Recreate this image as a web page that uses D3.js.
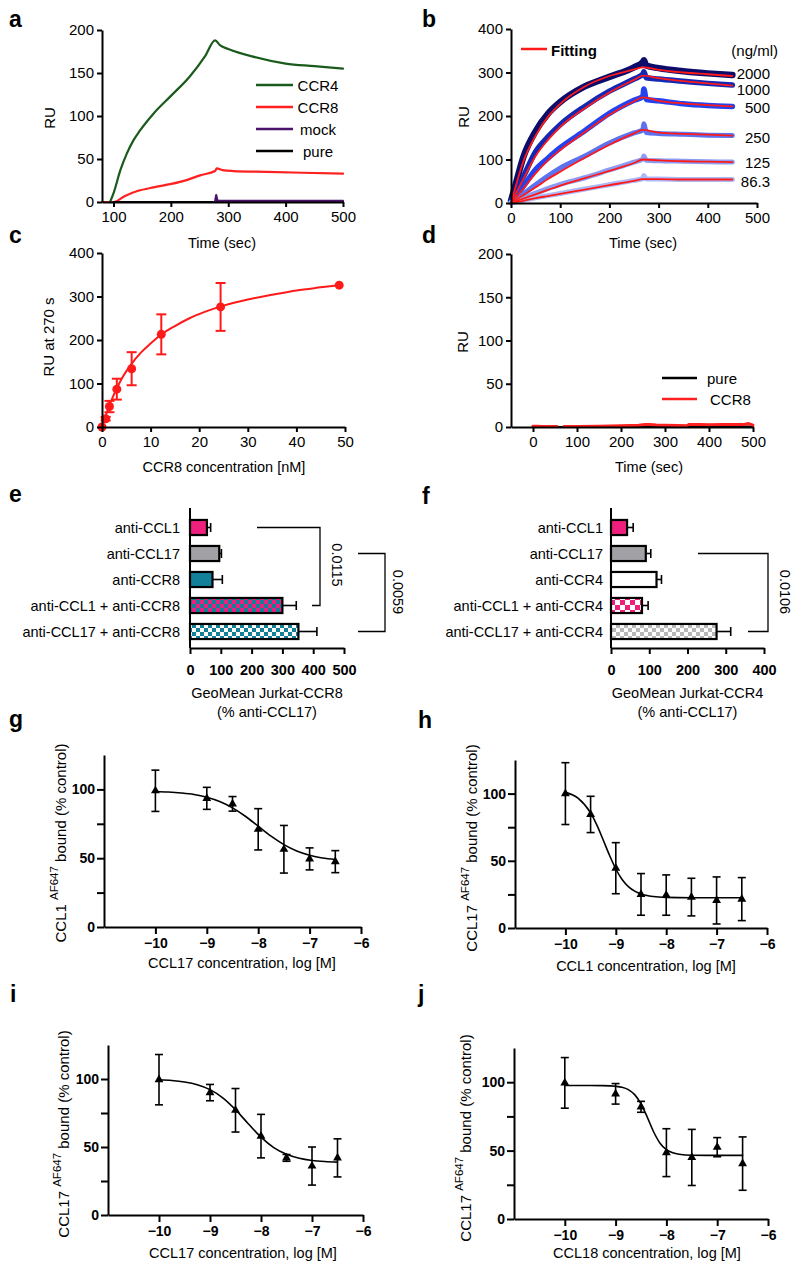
<!DOCTYPE html>
<html><head><meta charset="utf-8">
<script src="https://cdn.jsdelivr.net/npm/d3@7"></script>
<style>body{margin:0;background:#fff}svg{display:block}</style>
</head><body><svg id="fig" width="800" height="1272"></svg>
<script>
// ---------- DATA ----------
// Panel a
const aCCR4Time = [94,100,112,123,135,145,170,201,233,260,277,286,300,343,400,450,500];
const aCCR4     = [0,10,37,56,72,82,103,124,146,170,188,182,178,169,161,158,155];
const aCCR8Time = [80,100,120,143,170,201,230,251,277,280,290,309,367,430,500];
const aCCR8     = [0,0,7,13,17,21,26,31,36,39,37,36,35,34,33];
const aMockTime = [274,277,279,281,284,300,500];
const aMock     = [0,0,8,2,1.2,1.2,1.2];
const aPureTime = [100,280,500];
const aPure     = [0,0,0];
const aLegend   = ["CCR4","CCR8","mock","pure"];

// Panel b
const bConc  = ["2000","1000","500","250","125","86.3"];
const bTime  = [0,10,25,50,75,100,150,200,250,268,270,275,300,350,400,450];
const b2000  = [5,45,105,165,205,232,268,290,312,324,328,316,310,303,298,294];
const b1000  = [3,25,60,118,152,180,222,257,285,296,302,288,285,280,275,271];
const b500   = [2,15,38,77,103,127,166,206,236,245,262,238,235,228,224,222];
const b250   = [1,9,21,42,62,80,108,138,161,168,182,162,160,158,156,155];
const b125   = [1,5,12,23,33,43,58,76,94,101,108,98,97,96,95,94];
const b86    = [0,3,6,12,17,22,32,42,52,56,63,55,55,54,54,54];
const bFitTime = [0,10,25,50,75,100,150,200,250,268,300,350,400,450];
const bFit2000 = [0,40,95,155,198,228,268,292,307,312,306,300,296,292];
const bFit1000 = [0,22,55,108,145,175,218,254,283,293,287,280,275,270];
const bFit500  = [0,13,33,68,98,122,163,203,234,243,235,229,225,222];
const bFit250  = [0,7,18,36,55,72,104,134,160,168,162,159,157,155];
const bFit125  = [0,4,10,20,30,40,57,74,92,100,98,96,95,94];
const bFit86   = [0,2,5,11,16,21,31,41,51,55,55,54,54,54];

// Panel c
const cConc = [0,0.76,1.53,3.05,6.1,12.2,24.4,48.8];
const cRU   = [0,19,47,87,134,213,276,326];
const cErr  = [0,4,13,24,38,46,55,0];
const cFitConc = [0,1,2,3,4,6,8,10,12,15,18,21,25,30,35,40,45,48.8];
const cFitRU   = [0,34,63,88,110,144,171,192,211,232,250,264,279,293,304,314,321,326];

// Panel d
const dRedTime1 = [0,10,20,35,55];
const dRed1     = [1,0.8,0.5,0.6,0.5];
const dRedTime2 = [70,100,150,200,240,255,265,280,300,330,350,355,380,400,430,460,480,490,500];
const dRed2     = [0.5,0.6,1,1.5,2,3,3,2.2,2,1.8,1.5,3,2.8,2.6,3,2.8,3,4,2];
const dPureTime = [0,100,200,300,400,500];
const dPure     = [0,0,0.5,0.5,0.5,0.5];
const dLegend   = ["pure","CCR8"];

// Panel e
const eCats = ["anti-CCL1","anti-CCL17","anti-CCR8","anti-CCL1 + anti-CCR8","anti-CCL17 + anti-CCR8"];
const eVals = [55,95,73,300,352];
const eErr  = [12,7,32,45,60];
const eTicks = [0,100,200,300,400,500];
const eP = ["0.0115","0.0059"];

// Panel f
const fCats = ["anti-CCL1","anti-CCL17","anti-CCR4","anti-CCL1 + anti-CCR4","anti-CCL17 + anti-CCR4"];
const fVals = [42,91,119,81,276];
const fErr  = [16,13,13,16,37];
const fTicks = [0,100,200,300,400];
const fP = ["0.0106"];

// Dose-response panels g-j
const logTicks = [-10,-9,-8,-7,-6];
const gX = [-10,-9,-8.5,-8,-7.5,-7,-6.5];
const gY = [99,93.5,89.5,71,56.5,49.5,47.5];
const gErr = [15,8,5.3,15,17.3,8,8];
const gFitX = [-10,-9.75,-9.5,-9.25,-9,-8.75,-8.5,-8.25,-8,-7.75,-7.5,-7.25,-7,-6.75,-6.5];
const gFitY = [98.5,98.1,97.4,96.3,94.3,91.2,86.6,80.5,73.3,66.0,59.9,55.3,52.2,50.2,49.1];

const hX = [-10,-9.5,-9,-8.5,-8,-7.5,-7,-6.5];
const hY = [100,84.5,44.5,25,24.5,23,20.5,21.5];
const hErr = [23,13.5,19,15.5,15,14,17.5,16];
const hFitX = [-10,-9.75,-9.5,-9.375,-9.25,-9.125,-9,-8.875,-8.75,-8.625,-8.5,-8.25,-8,-7.5,-7,-6.5];
const hFitY = [100.9,96.6,85.6,76.5,65.5,54.1,43.9,36.1,30.8,27.4,25.3,23.4,22.8,22.5,22.5,22.5];

const iX = [-10,-9,-8.5,-8,-7.5,-7,-6.5];
const iY = [99.5,90,77,58,42,36,42];
const iErr = [18.5,6,16,16,2.5,14,14];
const iFitX = [-10,-9.75,-9.5,-9.25,-9,-8.75,-8.5,-8.25,-8,-7.75,-7.5,-7.25,-7,-6.75,-6.5];
const iFitY = [99.4,98.9,97.8,95.8,92.2,86.2,77.5,67.1,57.2,49.5,44.6,41.7,40.1,39.3,38.9];

const jX = [-10,-9,-8.5,-8,-7.5,-7,-6.5];
const jY = [99.5,91.5,82,48.5,45,52.5,40.5];
const jErr = [18.5,7.5,4,17.5,20.5,7,19.5];
const jFitX = [-10,-9.5,-9.25,-9,-8.875,-8.75,-8.625,-8.5,-8.375,-8.25,-8.125,-8,-7.875,-7.75,-7.5,-7,-6.5];
const jFitY = [97.6,97.6,97.5,97.0,96.3,94.6,90.9,84.2,74.3,63.6,55.4,50.7,48.4,47.3,46.6,46.5,46.5];

// ---------- DRAWING ----------
const FONT = '"Liberation Sans", Arial, Helvetica, sans-serif';
const svg = d3.select("#fig").attr("font-family", FONT);
const PINK = "#ef1f7d", TEAL = "#13809a", GRAY = "#a2a2a6";

function styleAxis(g, size, bold) {
  g.attr("font-family", FONT);
  g.select(".domain").attr("stroke", "#000").attr("stroke-width", 2);
  g.selectAll(".tick line").attr("stroke", "#000").attr("stroke-width", 2);
  g.selectAll(".tick text").attr("fill", "#000").style("font-size", size + "px")
    .style("font-weight", bold ? "bold" : "normal");
}
function xAxis(scale, y, ticks, opt = {}) {
  const g = svg.append("g").attr("transform", `translate(0,${y})`)
    .call(d3.axisBottom(scale).tickValues(ticks).tickSize(opt.ts || 5).tickPadding(opt.tp || 4).tickSizeOuter(0).tickFormat(opt.fmt || d3.format("d")));
  styleAxis(g, opt.size || 15, opt.bold);
  return g;
}
function yAxis(scale, x, ticks, opt = {}) {
  const g = svg.append("g").attr("transform", `translate(${x},0)`)
    .call(d3.axisLeft(scale).tickValues(ticks).tickSize(opt.ts || 5).tickPadding(opt.tp || 3).tickSizeOuter(0).tickFormat(opt.fmt || d3.format("d")));
  styleAxis(g, opt.size || 15, opt.bold);
  return g;
}
function text(x, y, s, opt = {}) {
  return svg.append("text").attr("x", x).attr("y", y).text(s)
    .attr("text-anchor", opt.anchor || "middle")
    .attr("dominant-baseline", opt.base || "central")
    .style("font-size", (opt.size || 14.5) + "px")
    .style("font-weight", opt.bold ? "bold" : "normal").attr("fill", "#000");
}
function rtext(x, y, s, rot, size) {
  return svg.append("text").attr("transform", `translate(${x},${y}) rotate(${rot})`)
    .attr("text-anchor", "middle").attr("dominant-baseline", "central")
    .style("font-size", (size || 14.5) + "px").text(s);
}
function letter(x, y, s) { text(x, y, s, {anchor: "start", base: "alphabetic", size: 23, bold: true}); }
function pts(xs, ys) { return xs.map((x, i) => [x, ys[i]]); }
function drawLine(xs, ys, sx, sy, color, w, curve) {
  svg.append("path").datum(pts(xs, ys))
    .attr("d", d3.line().x(d => sx(d[0])).y(d => sy(d[1])).curve(curve || d3.curveMonotoneX))
    .attr("fill", "none").attr("stroke", color).attr("stroke-width", w)
    .attr("stroke-linejoin", "round").attr("stroke-linecap", "round");
}

// ---- Panel a ----
{
  const x = d3.scaleLinear([80, 500], [102, 343]);
  const y = d3.scaleLinear([0, 200], [202, 30]);
  drawLine(aCCR8Time, aCCR8, x, y, "#ff2020", 2.2);
  drawLine(aPureTime, aPure, x, y, "#000", 2.2, d3.curveLinear);
  drawLine(aMockTime, aMock, x, y, "#4a1268", 2.2, d3.curveLinear);
  drawLine(aCCR4Time, aCCR4, x, y, "#1a5a1a", 2.2);
  xAxis(x, 202, [100, 200, 300, 400, 500]);
  yAxis(y, 102, [0, 50, 100, 150, 200]);
  const cols = ["#1a5a1a", "#ff2020", "#4a1268", "#000"];
  const ly = d3.scalePoint(aLegend, [85, 151]);
  aLegend.forEach((l, i) => {
    svg.append("line").attr("x1", 256).attr("x2", 293).attr("y1", ly(l)).attr("y2", ly(l))
      .attr("stroke", cols[i]).attr("stroke-width", 2.5);
    text(318, ly(l), l, {size: 15});
  });
  rtext(49, 118, "RU", -90, 15);
  text(222, 243, "Time (sec)");
  letter(9, 27, "a");
}

// ---- Panel b ----
{
  const x = d3.scaleLinear([0, 500], [511, 757]);
  const y = d3.scaleLinear([0, 400], [203, 29]);
  const data = [b2000, b1000, b500, b250, b125, b86];
  const fits = [bFit2000, bFit1000, bFit500, bFit250, bFit125, bFit86];
  const cols = ["#0c0c6a", "#1428b4", "#2443f0", "#5d72ef", "#8d9cf3", "#adb9f7"];
  const widths = [6.5, 5.5, 5.5, 5, 5, 5];
  data.forEach((d, i) => drawLine(bTime, d, x, y, cols[i], widths[i], d3.curveMonotoneX));
  fits.forEach(f => drawLine(bFitTime, f, x, y, "#ff1a1a", 1.8, d3.curveMonotoneX));
  xAxis(x, 203, [0, 100, 200, 300, 400, 500]);
  yAxis(y, 511, [0, 100, 200, 300, 400]);
  svg.append("line").attr("x1", 521).attr("x2", 547).attr("y1", 49).attr("y2", 49)
    .attr("stroke", "#ff1a1a").attr("stroke-width", 2.5);
  text(551, 50, "Fitting", {anchor: "start", bold: true, size: 15});
  text(778, 50, "(ng/ml)", {anchor: "end", size: 15});
  const labY = [73, 89, 107, 137, 162, 181];
  bConc.forEach((c, i) => text(770, labY[i], c, {anchor: "end", size: 15}));
  rtext(463, 117, "RU", -90, 15);
  text(643, 243, "Time (sec)");
  letter(422, 27, "b");
}

// ---- Panel c ----
{
  const x = d3.scaleLinear([0, 50], [102, 345]);
  const y = d3.scaleLinear([0, 400], [427, 253]);
  drawLine(cFitConc, cFitRU, x, y, "#ff1a1a", 2, d3.curveMonotoneX);
  const g = svg.append("g");
  cConc.forEach((c, i) => {
    if (cErr[i] > 0) {
      g.append("line").attr("x1", x(c)).attr("x2", x(c)).attr("y1", y(cRU[i] - cErr[i])).attr("y2", y(cRU[i] + cErr[i]))
        .attr("stroke", "#ff1a1a").attr("stroke-width", 2);
      [cRU[i] - cErr[i], cRU[i] + cErr[i]].forEach(v =>
        g.append("line").attr("x1", x(c) - 5).attr("x2", x(c) + 5).attr("y1", y(v)).attr("y2", y(v))
          .attr("stroke", "#ff1a1a").attr("stroke-width", 2));
    }
    g.append("circle").attr("cx", x(c)).attr("cy", y(cRU[i])).attr("r", 4.5).attr("fill", "#ff1a1a");
  });
  xAxis(x, 427, [0, 10, 20, 30, 40, 50]);
  yAxis(y, 102, [0, 100, 200, 300, 400]);
  rtext(48, 337, "RU at 270 s", -90, 15);
  text(224, 467, "CCR8 concentration [nM]");
  letter(9, 243, "c");
}

// ---- Panel d ----
{
  const x = d3.scaleLinear([-50, 500], [511, 753]);
  const y = d3.scaleLinear([0, 200], [427, 254]);
  drawLine(dPureTime, dPure, x, y, "#000", 2, d3.curveLinear);
  drawLine(dRedTime1, dRed1, x, y, "#ff2020", 3, d3.curveLinear);
  drawLine(dRedTime2, dRed2, x, y, "#ff2020", 3, d3.curveLinear);
  xAxis(x, 427, [0, 100, 200, 300, 400, 500]);
  yAxis(y, 511, [0, 50, 100, 150, 200]);
  const cols = ["#000", "#ff2020"];
  const lys = [378, 399];
  dLegend.forEach((l, i) => {
    svg.append("line").attr("x1", 662).attr("x2", 697).attr("y1", lys[i]).attr("y2", lys[i])
      .attr("stroke", cols[i]).attr("stroke-width", 2.5);
    text(i === 0 ? 707 : 710, lys[i], l, {anchor: "start", size: 15});
  });
  rtext(462, 342, "RU", -90, 15);
  text(649, 467, "Time (sec)");
  letter(422, 243, "d");
}

// ---- patterns ----
const defs = svg.append("defs");
function checker(id, a, b, c) {
  const p = defs.append("pattern").attr("id", id).attr("patternUnits", "userSpaceOnUse")
    .attr("width", 2 * c).attr("height", 2 * c);
  p.append("rect").attr("width", 2 * c).attr("height", 2 * c).attr("fill", a);
  p.append("rect").attr("width", c).attr("height", c).attr("fill", b);
  p.append("rect").attr("x", c).attr("y", c).attr("width", c).attr("height", c).attr("fill", b);
}
checker("pinkTeal", TEAL, PINK, 4);
checker("tealWhite", "#ffffff", TEAL, 4);
checker("pinkWhite", "#ffffff", PINK, 5);
checker("grayWhite", "#ffffff", "#b8b8b8", 4);

function barPanel(cats, vals, errs, ticks, x0, x1, xmax, fills, labelX, title, brackets) {
  const x = d3.scaleLinear([0, xmax], [x0, x1]);
  const y = d3.scaleBand(cats, [514.5, 644.5]).paddingInner(0.42).paddingOuter(0.21);
  cats.forEach((c, i) => {
    const yc = y(c) + y.bandwidth() / 2;
    svg.append("line").attr("x1", x(vals[i])).attr("x2", x(vals[i] + errs[i])).attr("y1", yc).attr("y2", yc)
      .attr("stroke", "#000").attr("stroke-width", 1.6);
    svg.append("line").attr("x1", x(vals[i] + errs[i])).attr("x2", x(vals[i] + errs[i]))
      .attr("y1", yc - 4.5).attr("y2", yc + 4.5).attr("stroke", "#000").attr("stroke-width", 1.6);
    svg.append("rect").attr("x", x(0)).attr("y", y(c)).attr("width", x(vals[i]) - x(0)).attr("height", y.bandwidth())
      .attr("fill", fills[i]).attr("stroke", "#000").attr("stroke-width", 2.2);
    text(labelX, yc, c, {anchor: "end"});
  });
  svg.append("line").attr("x1", x0).attr("x2", x0).attr("y1", 508).attr("y2", 648)
    .attr("stroke", "#000").attr("stroke-width", 2);
  xAxis(x, 648, ticks, {bold: true, size: 14.5, ts: 6, tp: 11});
  text((x0 + x1) / 2, 693, title[0]);
  text((x0 + x1) / 2, 712, title[1]);
  brackets.forEach(b => {
    const ya = y(cats[b.from]) + y.bandwidth() / 2, yb = y(cats[b.to]) + y.bandwidth() / 2;
    svg.append("path").attr("d", `M${b.x1},${ya}H${b.xr}V${yb}H${b.x2}`)
      .attr("fill", "none").attr("stroke", "#000").attr("stroke-width", 1.3);
    rtext(b.tx, b.ty, b.p, 90, 14.5);
  });
}
barPanel(eCats, eVals, eErr, eTicks, 190, 344, 500,
  [PINK, GRAY, TEAL, "url(#pinkTeal)", "url(#tealWhite)"], 180,
  ["GeoMean Jurkat-CCR8", "(% anti-CCL17)"],
  [{from: 0, to: 3, x1: 257, xr: 320, x2: 312, tx: 337, ty: 565, p: eP[0]},
   {from: 1, to: 4, x1: 358, xr: 385, x2: 358, tx: 398, ty: 592, p: eP[1]}]);
letter(9, 502, "e");
barPanel(fCats, fVals, fErr, fTicks, 611, 764, 400,
  [PINK, GRAY, "#ffffff", "url(#pinkWhite)", "url(#grayWhite)"], 603,
  ["GeoMean Jurkat-CCR4", "(% anti-CCL17)"],
  [{from: 1, to: 4, x1: 698, xr: 768, x2: 748, tx: 785, ty: 592, p: fP[0]}]);
letter(422, 504, "f");

// ---- dose-response panels ----
function dosePanel(o) {
  const x = d3.scaleLinear([-11, -6], [o.x0, o.x1]);
  const y = d3.scaleLinear([0, 125], [o.y0, o.y1]);
  drawLine(o.fx, o.fy, x, y, "#000", 1.6, d3.curveMonotoneX);
  o.xs.forEach((v, i) => {
    const cx = x(v);
    const lo = y(o.ys[i] - o.err[i]), hi = y(o.ys[i] + o.err[i]);
    svg.append("line").attr("x1", cx).attr("x2", cx).attr("y1", lo).attr("y2", hi).attr("stroke", "#000").attr("stroke-width", 1.6);
    [lo, hi].forEach(yy => svg.append("line").attr("x1", cx - 4).attr("x2", cx + 4).attr("y1", yy).attr("y2", yy)
      .attr("stroke", "#000").attr("stroke-width", 1.6));
    svg.append("path").attr("d", d3.symbol(d3.symbolTriangle, 34)())
      .attr("transform", `translate(${cx},${y(o.ys[i])})`).attr("fill", "#000");
  });
  xAxis(x, o.y0, logTicks, {bold: true, size: 14, ts: 7, tp: 4});
  yAxis(y, o.x0, [0, 25, 50, 75, 100], {bold: true, size: 14, ts: 7, tp: 2,
    fmt: d => (d % 50 === 0 ? d : "")});
  const t = svg.append("text").attr("transform", `translate(${o.ytx},${o.yty}) rotate(-90)`)
    .attr("text-anchor", "middle").attr("dominant-baseline", "central").style("font-size", "15px");
  t.append("tspan").text(o.ylab + " ");
  t.append("tspan").attr("dy", -6).style("font-size", "11.5px").text("AF647");
  t.append("tspan").attr("dy", 6).text(" bound (% control)");
  text(o.xtx, o.xty, o.xlab);
  letter(o.lx, o.ly, o.letter);
}
dosePanel({x0: 104, x1: 361, y0: 927, y1: 755, fx: gFitX, fy: gFitY, xs: gX, ys: gY, err: gErr,
  ylab: "CCL1", ytx: 60, yty: 843, xlab: "CCL17 concentration, log [M]", xtx: 242, xty: 963,
  letter: "g", lx: 9, ly: 727});
dosePanel({x0: 515, x1: 767, y0: 928, y1: 760, fx: hFitX, fy: hFitY, xs: hX, ys: hY, err: hErr,
  ylab: "CCL17", ytx: 471, yty: 848, xlab: "CCL1 concentration, log [M]", xtx: 646, xty: 966,
  letter: "h", lx: 418, ly: 728});
dosePanel({x0: 108, x1: 363, y0: 1215, y1: 1045, fx: iFitX, fy: iFitY, xs: iX, ys: iY, err: iErr,
  ylab: "CCL17", ytx: 63, yty: 1134, xlab: "CCL17 concentration, log [M]", xtx: 243, xty: 1253,
  letter: "i", lx: 10, ly: 1002});
dosePanel({x0: 514, x1: 768, y0: 1219, y1: 1048, fx: jFitX, fy: jFitY, xs: jX, ys: jY, err: jErr,
  ylab: "CCL17", ytx: 465, yty: 1138, xlab: "CCL18 concentration, log [M]", xtx: 647, xty: 1253,
  letter: "j", lx: 418, ly: 1002});
</script></body></html>
